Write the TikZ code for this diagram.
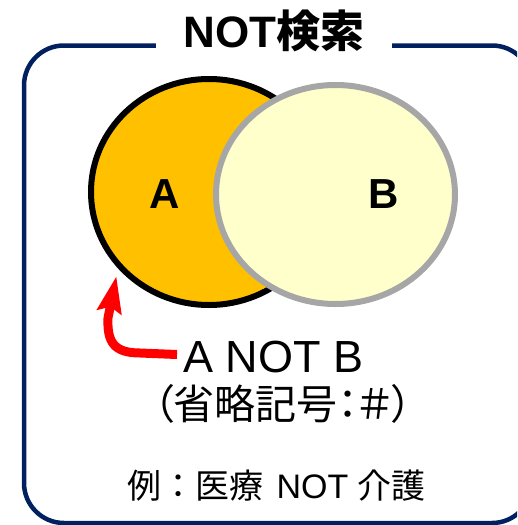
\documentclass[tikz,border=0pt]{standalone}
\usepackage{fontspec}
\setmainfont{Liberation Sans}
\newfontfamily\jp{Noto Sans CJK JP}
\newfontfamily\jpp{Noto Sans CJK JP}[RawFeature=+palt]
\usetikzlibrary{shapes.geometric, arrows.meta}
\definecolor{navy}{RGB}{0,32,96}
\definecolor{aorange}{RGB}{255,192,0}
\definecolor{bcream}{RGB}{255,255,204}
\definecolor{bgray}{RGB}{166,166,166}
\definecolor{arrowred}{RGB}{255,0,0}
\begin{document}
\begin{tikzpicture}[x=1pt,y=-1pt,
  frame/.style={draw=navy, line width=4.5pt, rounded corners=40pt},
  setA/.style={ellipse, draw=black, fill=aorange, line width=6pt, inner sep=0pt},
  setB/.style={ellipse, draw=bgray, fill=bcream, line width=6pt, inner sep=0pt},
  setlabel/.style={inner sep=0pt, anchor=base, font=\fontsize{42}{42}\selectfont\bfseries},
  titlebox/.style={fill=white, inner xsep=28pt, inner ysep=3pt, anchor=base, font=\fontsize{44}{44}\selectfont\bfseries},
  plaintext/.style={inner sep=0pt, anchor=base west},
  redarrow/.style={draw=arrowred, line width=9pt, -{Stealth[length=36pt,width=24pt,inset=5pt]}, shorten >=8pt}
]
\useasboundingbox (0,0) rectangle (517,525);
\clip (0,0) rectangle (517,525);
\fill[white] (0,0) rectangle (517,525);
\draw[frame] (24,45.5) rectangle (532,523);
\node[titlebox] (title) at (274,47) {NOT{\jp 検索}};
\node[setA, minimum width=236pt, minimum height=226pt] (A) at (209,192) {};
\node[setB, minimum width=239pt, minimum height=219pt] (B) at (335.5,194.5) {};
\node[setlabel] (la) at (165,208) {A};
\node[setlabel] (lb) at (384,208) {B};
\node[plaintext, font=\fontsize{45}{45}\selectfont] (anot) at (183,372) {A NOT B};
\node[plaintext, font=\fontsize{41}{41}\selectfont\jpp] (abbr) at (153,419) {（省略記号：＃）};
\node[plaintext, font=\fontsize{34}{34}\selectfont] (ex) at (127,498) {{\jp 例：医療}\hspace{4pt} NOT {\jp 介護}};
\draw[redarrow] ([xshift=-6pt,yshift=2pt]anot.west) -- (140,353) .. controls (114,353) and (107,342) .. (108,318) -- (A.220);
\end{tikzpicture}
\end{document}
